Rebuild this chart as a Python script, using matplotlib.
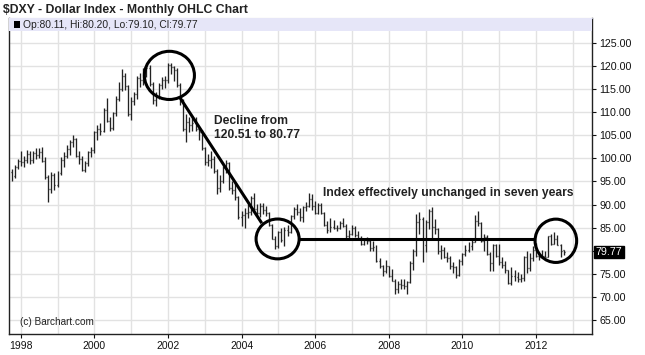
import numpy as np
import pandas as pd
import matplotlib
matplotlib.use("Agg")
import matplotlib.pyplot as plt
from matplotlib.patches import Ellipse, Rectangle
from matplotlib.transforms import blended_transform_factory

# ---------------- data (monthly OHLC, Oct 1997 .. Oct 2012) ----------------
start_month = "1997-10"
opens = [
    97.0, 96.1, 98.2,
    99.4, 99.3, 99.6, 101.0, 99.6, 101.1, 100.8, 101.4, 99.5, 96.0, 93.3, 96.4,
    94.2, 96.9, 99.6, 100.6, 102.1, 103.6, 104.2, 100.6, 99.9, 97.5, 98.9, 101.4,
    101.9, 105.6, 106.3, 106.0, 110.5, 108.1, 106.5, 109.7, 112.9, 114.9, 117.7, 115.6,
    109.6, 112.3, 113.8, 117.4, 116.9, 119.2, 119.4, 116.1, 112.5, 113.2, 115.8, 117.0,
    116.8, 120.1, 119.7, 119.1, 115.9, 112.4, 106.4, 107.8, 107.1, 107.7, 106.3, 105.7,
    102.2, 99.1, 99.6, 99.9, 97.3, 93.5, 95.1, 97.9, 98.9, 93.5, 93.2, 91.6,
    87.3, 87.8, 88.3, 88.5, 91.4, 89.0, 88.3, 89.8, 88.9, 88.3, 85.6, 82.6,
    81.0, 84.0, 82.3, 84.6, 84.2, 87.5, 89.1, 88.4, 87.3, 89.4, 89.8, 91.3,
    89.8, 88.2, 90.0, 88.3, 85.7, 84.6, 85.2, 85.0, 84.9, 86.1, 85.5, 83.2,
    83.7, 84.9, 83.4, 82.9, 81.5, 82.3, 82.2, 80.6, 80.9, 77.9, 76.7, 75.6,
    76.7, 74.6, 73.6, 71.8, 72.9, 72.7, 72.4, 73.3, 77.3, 79.9, 86.2, 86.8,
    81.3, 86.2, 88.6, 85.2, 84.8, 79.9, 80.2, 78.7, 78.4, 76.8, 76.5, 74.9,
    77.9, 79.4, 80.3, 81.0, 82.0, 86.5, 86.0, 82.2, 83.1, 79.4, 77.4, 81.2,
    79.0, 77.6, 76.9, 75.9, 73.0, 74.6, 74.3, 74.0, 74.2, 78.6, 76.3, 78.5,
    80.2, 79.0, 78.8, 79.0, 78.8, 83.2, 81.6, 82.6, 81.2, 80.11,
]
highs = [
    97.6, 98.6, 99.9,
    101.6, 100.6, 101.9, 101.6, 101.5, 102.3, 102.2, 102.5, 100.2, 96.4, 97.0, 96.8,
    97.3, 100.2, 101.3, 102.8, 104.0, 105.0, 104.4, 101.6, 100.6, 99.4, 101.6, 102.5,
    106.0, 107.3, 107.6, 110.8, 113.0, 108.9, 110.0, 113.4, 116.4, 119.2, 118.5, 115.9,
    113.3, 114.4, 117.8, 118.4, 119.4, 119.9, 120.2, 116.4, 114.4, 116.2, 117.6, 117.8,
    120.6, 120.5, 120.0, 119.4, 116.2, 112.8, 109.5, 109.0, 108.6, 108.9, 106.8, 106.1,
    102.4, 100.9, 101.5, 100.5, 97.6, 96.3, 98.3, 99.6, 99.3, 95.1, 94.6, 91.8,
    88.6, 89.2, 90.2, 91.9, 92.5, 90.1, 90.4, 90.3, 89.8, 88.5, 85.8, 83.2,
    84.4, 84.9, 85.1, 85.6, 87.7, 89.6, 90.1, 89.2, 89.7, 90.6, 92.6, 92.2,
    90.7, 90.3, 90.3, 88.4, 86.4, 87.1, 86.7, 85.7, 86.4, 87.1, 85.9, 84.5,
    85.6, 85.4, 84.4, 83.2, 82.8, 83.0, 82.3, 82.1, 81.2, 78.4, 77.0, 78.0,
    76.8, 76.2, 73.9, 73.6, 73.9, 74.0, 73.6, 77.8, 80.4, 87.9, 88.5, 87.3,
    86.6, 89.0, 89.6, 87.0, 85.0, 81.3, 80.9, 79.7, 78.9, 77.6, 76.8, 78.3,
    79.6, 81.3, 82.0, 82.8, 87.7, 88.7, 86.2, 83.6, 83.4, 79.8, 81.4, 81.5,
    81.4, 78.6, 77.9, 76.0, 76.5, 75.8, 75.4, 75.0, 79.0, 79.9, 79.6, 81.1,
    81.8, 79.5, 80.3, 79.9, 83.3, 83.6, 84.1, 83.5, 81.5, 80.20,
]
lows = [
    95.2, 95.8, 97.6,
    98.3, 98.1, 99.0, 98.8, 98.9, 99.9, 100.0, 99.2, 95.6, 90.6, 92.6, 93.2,
    93.8, 96.3, 98.2, 100.0, 100.8, 102.5, 100.2, 98.7, 97.2, 97.0, 98.4, 100.2,
    101.1, 103.9, 105.1, 105.7, 107.8, 105.9, 106.2, 109.2, 112.3, 114.6, 114.8, 109.1,
    108.3, 111.6, 112.8, 115.4, 115.8, 117.5, 115.7, 111.8, 111.3, 112.8, 114.9, 115.2,
    116.3, 118.3, 116.6, 115.3, 111.6, 105.8, 103.6, 105.7, 105.9, 105.8, 103.9, 101.8,
    98.6, 98.3, 97.9, 96.9, 92.4, 92.8, 94.7, 96.8, 93.1, 92.2, 91.1, 86.8,
    85.3, 85.0, 87.1, 87.8, 88.6, 87.8, 87.3, 87.9, 87.6, 85.3, 82.5, 80.4,
    80.6, 81.9, 81.0, 83.3, 83.9, 86.8, 87.7, 86.5, 86.3, 88.6, 89.5, 88.9,
    87.9, 88.0, 87.9, 85.5, 83.9, 84.2, 84.7, 84.3, 84.7, 85.2, 82.9, 82.4,
    83.5, 83.1, 82.6, 81.3, 81.2, 81.6, 80.1, 80.1, 77.7, 76.4, 74.5, 75.3,
    74.4, 73.5, 70.7, 70.9, 71.9, 71.9, 70.8, 73.0, 75.9, 78.9, 83.7, 77.7,
    79.8, 84.7, 82.6, 83.6, 79.4, 78.3, 78.5, 77.7, 76.1, 75.2, 74.2, 74.5,
    76.9, 78.9, 79.8, 80.3, 81.9, 85.4, 81.9, 80.1, 79.1, 75.6, 75.6, 78.8,
    76.9, 76.4, 75.3, 72.9, 72.7, 73.6, 73.3, 73.4, 73.6, 75.3, 75.7, 77.8,
    78.8, 78.1, 78.5, 78.6, 78.8, 81.3, 81.4, 81.2, 78.6, 79.10,
]
closes = [
    96.1, 98.2, 99.4,
    99.3, 99.6, 101.0, 99.6, 101.1, 100.8, 101.4, 99.5, 96.0, 93.3, 96.4, 94.2,
    96.9, 99.6, 100.6, 102.1, 103.6, 104.2, 100.6, 99.9, 97.5, 98.9, 101.4, 101.9,
    105.6, 106.3, 106.0, 110.5, 108.1, 106.5, 109.7, 112.9, 114.9, 117.7, 115.6, 109.6,
    112.3, 113.8, 117.4, 116.9, 119.2, 119.4, 116.1, 112.5, 113.2, 115.8, 117.0, 116.8,
    120.1, 119.7, 119.1, 115.9, 112.4, 106.4, 107.8, 107.1, 107.7, 106.3, 105.7, 102.2,
    99.1, 99.6, 99.9, 97.3, 93.5, 95.1, 97.9, 98.9, 93.5, 93.2, 91.6, 87.3,
    87.8, 88.3, 88.5, 91.4, 89.0, 88.3, 89.8, 88.9, 88.3, 85.6, 82.6, 81.0,
    84.0, 82.3, 84.6, 84.2, 87.5, 89.1, 88.4, 87.3, 89.4, 89.8, 91.3, 89.8,
    88.2, 90.0, 88.3, 85.7, 84.6, 85.2, 85.0, 84.9, 86.1, 85.5, 83.2, 83.7,
    84.9, 83.4, 82.9, 81.5, 82.3, 82.2, 80.6, 80.9, 77.9, 76.7, 75.6, 76.7,
    74.6, 73.6, 71.8, 72.9, 72.7, 72.4, 73.3, 77.3, 79.9, 86.2, 86.8, 81.3,
    86.2, 88.6, 85.2, 84.8, 79.9, 80.2, 78.7, 78.4, 76.8, 76.5, 74.9, 77.9,
    79.4, 80.3, 81.0, 82.0, 86.5, 86.0, 82.2, 83.1, 79.4, 77.4, 81.2, 79.0,
    77.6, 76.9, 75.9, 73.0, 74.6, 74.3, 74.0, 74.2, 78.6, 76.3, 78.5, 80.2,
    79.0, 78.8, 79.0, 78.8, 83.2, 81.6, 82.6, 81.2, 79.9, 79.77,
]
y_ticks = [65, 70, 75, 80, 85, 90, 95, 100, 105, 110, 115, 120, 125]
x_label_years = [1998, 2000, 2002, 2004, 2006, 2008, 2010, 2012]
last_price = 79.77
title_text = "\\$DXY - Dollar Index - Monthly OHLC Chart"
legend_text = "Op:80.11, Hi:80.20, Lo:79.10, Cl:79.77"

# ---------------- figure ----------------
plt.rcParams['font.family'] = ['Liberation Sans', 'DejaVu Sans']
fig = plt.figure(figsize=(6.45, 3.55), dpi=100)
fig.patch.set_facecolor('white')
ax = fig.add_axes([9.3/645, 1-334/355, (592.3-9.3)/645, (334-18)/355])

dates = pd.date_range(start_month, periods=len(closes), freq='MS')
xs = np.array([d.year + (d.month - 1) / 12.0 for d in dates])
o = np.array(opens); h = np.array(highs); l = np.array(lows); c = np.array(closes)

tick = 0.32 / 12
bar_col = '#222222'
ax.vlines(xs, l, h, color=bar_col, lw=0.95, zorder=3)
ax.hlines(o, xs - tick, xs, color=bar_col, lw=0.95, zorder=3)
ax.hlines(c, xs, xs + tick, color=bar_col, lw=0.95, zorder=3)

ax.set_xlim(1997.69, 2013.53)
ax.set_ylim(62.08, 130.29)

# grid
ax.set_xticks(x_label_years)
ax.set_xticks(np.arange(1998, 2014), minor=True)
ax.set_xticklabels([str(y) for y in x_label_years])
ax.grid(True, which='both', axis='x', color='#e2e2e2', lw=1.0, zorder=0)
ax.set_yticks(y_ticks)
ax.set_yticklabels(["" if v == 80 else f"{v:.2f}" for v in y_ticks])
ax.grid(True, which='major', axis='y', color='#e2e2e2', lw=1.0, zorder=0)
ax.set_axisbelow(True)

ax.yaxis.tick_right()
ax.tick_params(axis='y', which='major', direction='out', length=3, width=0.8,
               labelsize=7.7, pad=2, colors='#111111')
ax.tick_params(axis='x', which='major', direction='out', length=3, width=0.8,
               labelsize=7.5, pad=2, colors='#111111')
ax.tick_params(axis='x', which='minor', length=0)

for s in ['left', 'bottom', 'right']:
    ax.spines[s].set_color('#222222')
    ax.spines[s].set_linewidth(1.0)
ax.spines['top'].set_color('#b8b8c8')
ax.spines['top'].set_linewidth(0.8)

# legend strip
strip_h = 13 / 316
ax.add_patch(Rectangle((0, 1 - strip_h), 1, strip_h, transform=ax.transAxes,
                       facecolor='#e6e6f8', edgecolor='none', zorder=4))
ax.add_patch(Rectangle((0.0075, 1 - strip_h + 0.009), 0.0105, strip_h - 0.018,
                       transform=ax.transAxes, facecolor='black', edgecolor='none', zorder=5))
ax.text(0.0235, 1 - strip_h / 2, legend_text, transform=ax.transAxes,
        fontsize=7.4, va='center', ha='left', color='#222222', zorder=6)

# title
fig.text(3/645, 1 - 10/355, title_text, fontsize=8.8, fontweight='bold',
         va='center', ha='left', color='#222222')

# copyright
ax.text(0.018, 0.039, "(c) Barchart.com", transform=ax.transAxes,
        fontsize=7.2, va='center', ha='left', color='#222222')

# last price label
tr = blended_transform_factory(ax.transAxes, ax.transData)
ax.text(1.006, last_price, f"{last_price:.2f}", transform=tr, fontsize=7.7,
        va='center', ha='left', color='white', zorder=7, clip_on=False,
        bbox=dict(facecolor='black', edgecolor='black', pad=1.0))

# annotations
lw_ann = 2.2
for cx, cy, w, hh in [(2002.04, 117.9, 1.36, 10.4), (2004.98, 82.6, 1.17, 8.6),
                      (2012.54, 82.2, 1.13, 9.35)]:
    ax.add_patch(Ellipse((cx, cy), w, hh, facecolor='none', edgecolor='black',
                         lw=lw_ann, zorder=6))
ax.plot([2002.31, 2004.55], [113.3, 86.0], color='black', lw=lw_ann, zorder=6,
        solid_capstyle='butt')
ax.plot([2005.56, 2011.98], [82.5, 82.5], color='black', lw=lw_ann, zorder=6,
        solid_capstyle='butt')

ax.text(2003.25, 106.6, "Decline from\n120.51 to 80.77", fontsize=8.7,
        fontweight='bold', va='center', ha='left', color='#222222',
        linespacing=1.25, zorder=7)
ax.text(2006.22, 92.45, "Index effectively unchanged in seven years", fontsize=8.7,
        fontweight='bold', va='center', ha='left', color='#222222', zorder=7)

fig.savefig("out.png", dpi=100)
